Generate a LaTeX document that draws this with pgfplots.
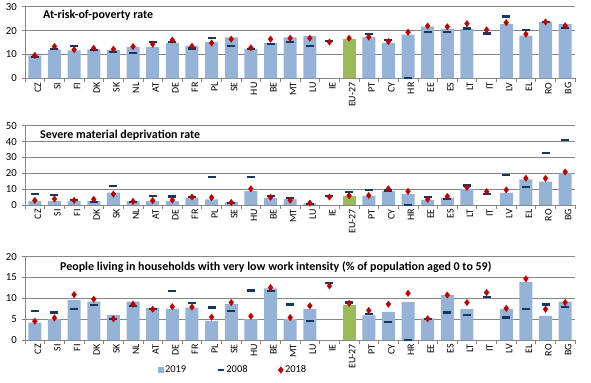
\documentclass[border=0pt]{standalone}
\usepackage{pgfplots}
\pgfplotsset{compat=1.18}
\usepackage{pgfplotstable}
\usepackage{fontspec}
\setmainfont{Carlito}

\definecolor{barblue}{RGB}{149,179,215}
\definecolor{eugreen}{RGB}{155,187,89}
\definecolor{dashnavy}{RGB}{23,55,94}
\definecolor{diamred}{RGB}{192,0,0}
\definecolor{gridgray}{RGB}{134,134,134}

% columns: i  y19 (2019)  y08 (2008)  y18 (2018)
\pgfplotstableread{
i y19 y08 y18
0 9.6 9.0 9.6
1 12.0 12.3 13.3
2 11.7 13.6 12.0
3 12.1 11.8 12.6
4 11.9 10.9 12.2
5 13.2 10.5 13.3
6 13.1 15.2 14.3
7 14.8 15.2 16.0
8 13.6 12.5 13.4
9 15.2 16.9 14.8
10 17.1 13.5 16.4
11 12.3 12.4 12.8
12 14.8 14.5 16.4
13 17.1 15.3 16.8
14 17.7 13.4 16.8
15 nan 15.5 15.2
16 nan nan 16.8
17 17.2 18.5 17.3
18 14.7 16.0 15.4
19 18.3 0 19.3
20 21.7 19.5 21.9
21 20.7 19.5 21.6
22 20.6 20.9 22.9
23 nan 18.8 20.3
24 22.7 25.9 23.3
25 17.9 20.1 18.5
26 23.6 23.7 23.6
27 22.7 21.2 22.0
}\dataA

\pgfplotstableread{
i y19 y08 y18
0 2.5 6.8 2.9
1 2.5 6.3 3.8
2 2.5 3.0 2.9
3 2.5 2.0 3.6
4 7.8 11.8 6.9
5 2.5 1.7 2.3
6 2.5 5.9 2.8
7 2.5 5.3 3.1
8 4.7 4.8 5.0
9 3.6 17.7 4.7
10 1.8 1.3 1.6
11 8.7 17.9 10.2
12 4.3 5.9 4.9
13 3.7 4.2 3.0
14 1.1 0.7 1.2
15 nan 5.5 5.0
16 nan 8.2 5.9
17 5.6 9.7 6.0
18 8.8 9.1 10.2
19 6.9 0 8.6
20 3.3 4.9 3.6
21 4.7 3.6 5.4
22 10.2 12.3 11.1
23 nan 7.0 8.4
24 7.6 19.1 9.5
25 16.2 11.3 16.9
26 14.7 32.8 16.8
27 20.0 41.2 20.8
}\dataB

\pgfplotstableread{
i y19 y08 y18
0 4.2 7.0 4.5
1 5.0 6.6 5.3
2 9.6 7.4 10.9
3 9.2 8.4 9.8
4 6.0 5.0 5.1
5 9.2 8.1 8.6
6 7.7 7.4 7.4
7 7.5 11.7 8.0
8 7.8 8.8 7.9
9 4.6 7.8 5.5
10 8.6 6.9 9.0
11 5.0 11.9 5.7
12 12.4 11.8 12.6
13 5.0 8.5 5.4
14 7.4 4.6 8.2
15 nan 13.7 13.0
16 nan 9.0 8.8
17 5.9 6.3 7.1
18 6.7 4.4 8.6
19 9.1 0 11.2
20 5.2 5.0 5.1
21 10.8 6.6 10.8
22 7.4 6.0 9.0
23 nan 10.4 11.4
24 7.4 5.4 7.6
25 13.9 7.4 14.7
26 5.8 8.5 7.4
27 9.2 8.0 9.0
}\dataC

\pgfplotsset{
  panel/.style={
    scale only axis, width=550bp,
    xmin=-0.5, xmax=27.5,
    axis x line*=bottom, axis y line*=left,
    axis line style={draw=gridgray, line width=0.6bp},
    ymajorgrids, grid style={draw=gridgray, line width=0.6bp},
    xtick={0,...,27},
    xticklabels={CZ,SI,FI,DK,SK,NL,AT,DE,FR,PL,SE,HU,BE,MT,LU,IE,EU-27,PT,CY,HR,EE,ES,LT,IT,LV,EL,RO,BG},
    minor xtick={-0.5,0.5,...,27.5},
    tick align=outside,
    major tick length=3bp, minor tick length=4bp,
    major x tick style={draw=none},
    minor x tick style={draw=gridgray, line width=0.6bp},
    major y tick style={draw=gridgray, line width=0.6bp},
    xticklabel style={rotate=90, anchor=east, inner sep=1bp, yshift=-3bp, font=\fontsize{10}{12}\selectfont},
    yticklabel style={font=\fontsize{10.8}{12}\selectfont, inner sep=1bp, xshift=-4bp},
    /pgf/number format/assume math mode=true,
    clip=false,
  },
  barsty/.style={ybar, bar width=13bp, bar shift=0pt, fill=barblue, draw=none},
  eusty/.style={ybar, bar width=13bp, bar shift=0pt, fill=eugreen, draw=none},
  dashsty/.style={only marks, mark=-, mark size=4bp, mark options={line width=2.2bp, draw=dashnavy}},
  diasty/.style={only marks, mark=diamond*, mark size=3.3bp, mark options={fill=diamred, draw=diamred, line width=0.2bp}},
}

\begin{document}
\begin{tikzpicture}
\path[use as bounding box] (0,0) rectangle (591bp,383bp);

% Panel 1
\begin{axis}[panel, height=71.6bp, at={(25bp,304.7bp)}, anchor=south west,
  ymin=0, ymax=30, ytick={0,10,20,30}]
\addplot[barsty] table[x=i,y=y19]{\dataA};
\addplot[eusty] coordinates {(16,16.5)};
\addplot[dashsty] table[x=i,y=y08]{\dataA};
\addplot[diasty] table[x=i,y=y18]{\dataA};
\end{axis}
\node[anchor=west, font=\bfseries\fontsize{12}{14}\selectfont, inner sep=0pt] at (43bp,368bp) {At-risk-of-poverty rate};

% Panel 2
\begin{axis}[panel, height=79.3bp, at={(25bp,178bp)}, anchor=south west,
  ymin=0, ymax=50, ytick={0,10,20,30,40,50}]
\addplot[barsty] table[x=i,y=y19]{\dataB};
\addplot[eusty] coordinates {(16,5.6)};
\addplot[dashsty] table[x=i,y=y08]{\dataB};
\addplot[diasty] table[x=i,y=y18]{\dataB};
\end{axis}
\node[anchor=west, font=\bfseries\fontsize{12}{14}\selectfont, inner sep=0pt] at (40bp,247.3bp) {Severe material deprivation rate};

% Panel 3
\begin{axis}[panel, height=83.3bp, at={(25bp,43bp)}, anchor=south west,
  ymin=0, ymax=20, ytick={0,5,10,15,20},
  legend columns=3,
  legend style={draw=none, fill=none, at={(0.242,-0.36)}, anchor=west,
    font=\fontsize{10.5}{12}\selectfont, inner sep=0pt,
    nodes={inner sep=1.5bp},
    /tikz/every even column/.append style={column sep=29bp}},
  legend cell align=left]
\addplot[barsty, legend image code/.code={\fill[barblue] (0bp,-2.6bp) rectangle (5.2bp,2.6bp);}] table[x=i,y=y19]{\dataC};
\addlegendentry{2019}
\addplot[eusty, forget plot] coordinates {(16,8.4)};
\addplot[dashsty, legend image code/.code={\draw[dashnavy, line width=2.2bp] (0bp,0bp) -- (6bp,0bp);}] table[x=i,y=y08]{\dataC};
\addlegendentry{2008}
\addplot[diasty, legend image code/.code={\fill[diamred] (3bp,3.3bp) -- (5.5bp,0bp) -- (3bp,-3.3bp) -- (0.5bp,0bp) -- cycle;}] table[x=i,y=y18]{\dataC};
\addlegendentry{2018}
\end{axis}
\node[anchor=west, font=\bfseries\fontsize{12}{14}\selectfont, inner sep=0pt] at (60bp,116.3bp) {People living in households with very low work intensity (\% of population aged 0 to 59)};
\end{tikzpicture}
\end{document}
